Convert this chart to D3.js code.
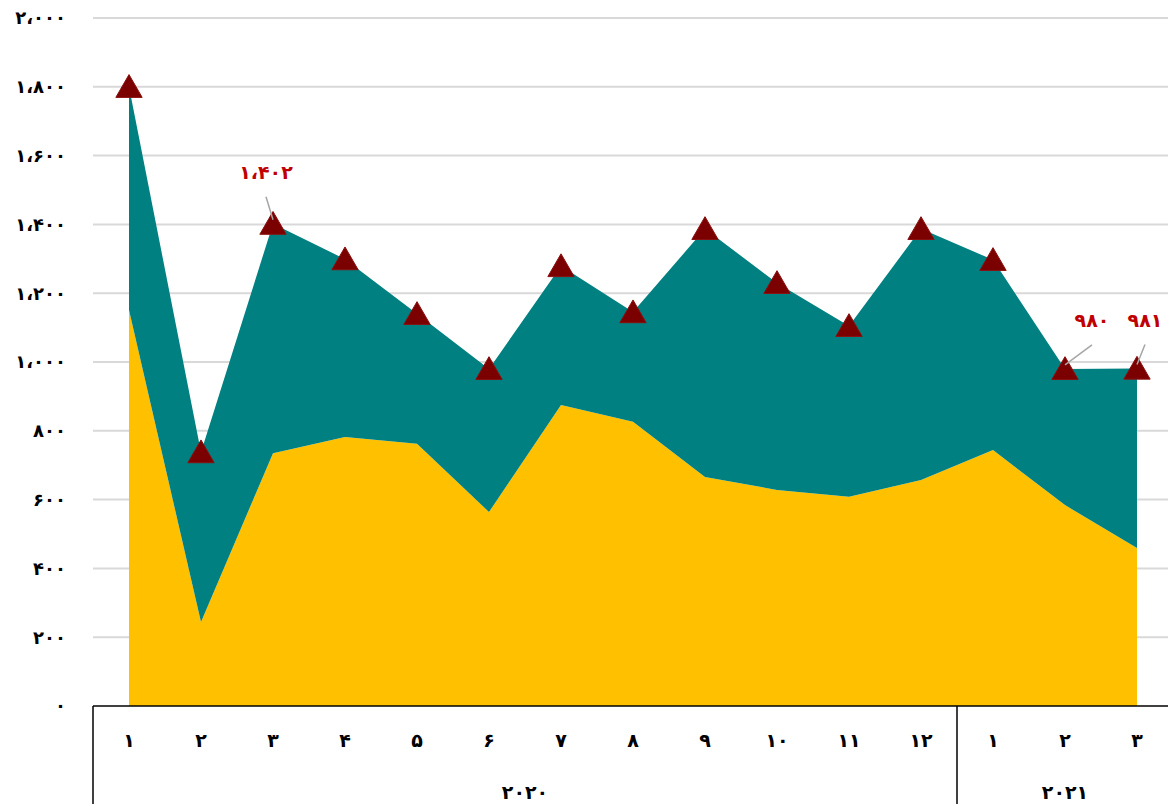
<!DOCTYPE html>
<html lang="fa">
<head>
    <meta charset="UTF-8">
    <title>Stacked area</title>
    <script src="https://d3js.org/d3.v7.min.js"></script>
    <style>
        body {
            margin: 0;
            background: #fff;
            font-family: 'DejaVu Sans', sans-serif;
        }
        svg { display: block; }
        .tick-label { font-size: 18px; font-weight: bold; fill: #000; }
        .cat-label { font-size: 19px; font-weight: bold; fill: #000; }
        .data-label { font-size: 19px; font-weight: bold; fill: #c00000; }
    </style>
</head>
<body>
    <div id="chart"></div>
    <script>
        // Datos
        const months = [1, 2, 3, 4, 5, 6, 7, 8, 9, 10, 11, 12, 1, 2, 3];
        const years = [{ label: 2020, count: 12 }, { label: 2021, count: 3 }];
        const yellowValues = [1151, 244, 735, 782, 762, 564, 875, 826, 666, 628, 608, 657, 744, 584, 459];
        const tealValues = [649, 494, 667, 517, 378, 416, 404, 319, 721, 602, 497, 730, 553, 396, 522];
        const yTicks = [0, 200, 400, 600, 800, 1000, 1200, 1400, 1600, 1800, 2000];
        // índices con etiqueta de total
        const labelled = [2, 13, 14];

        const W = 1168, H = 804;
        const margin = { top: 18, left: 93, bottom: 98 };
        const plotBottom = H - margin.bottom;

        const faDigits = "۰۱۲۳۴۵۶۷۸۹";
        const toFa = s => String(s).replace(/\d/g, d => faDigits[+d]).replace(/,/g, "،");
        const fmt = d => toFa(d3.format(",")(d));

        const data = months.map((m, i) => ({
            i, month: m, yellow: yellowValues[i], teal: tealValues[i],
            total: yellowValues[i] + tealValues[i]
        }));

        const svg = d3.select("#chart").append("svg")
            .attr("width", W).attr("height", H);

        const x = d3.scaleBand()
            .domain(d3.range(months.length))
            .range([margin.left, margin.left + 72 * months.length])
            .padding(0);
        const cx = i => x(i) + x.bandwidth() / 2;

        const y = d3.scaleLinear()
            .domain([0, 2000])
            .range([plotBottom, margin.top]);

        // Rejilla
        svg.append("g")
            .selectAll("line")
            .data(yTicks.filter(t => t > 0))
            .join("line")
            .attr("x1", margin.left).attr("x2", W)
            .attr("y1", d => y(d)).attr("y2", d => y(d))
            .attr("stroke", "#d9d9d9").attr("stroke-width", 2);

        // Etiquetas eje Y
        svg.append("g")
            .selectAll("text")
            .data(yTicks)
            .join("text")
            .attr("class", "tick-label")
            .attr("x", 66)
            .attr("y", d => y(d))
            .attr("dy", "0.35em")
            .attr("text-anchor", "end")
            .text(d => fmt(d));

        // Áreas apiladas
        const stack = d3.stack().keys(["yellow", "teal"]);
        const series = stack(data);
        const colors = { yellow: "#ffc000", teal: "#008080" };
        const area = d3.area()
            .x(d => cx(d.data.i))
            .y0(d => y(d[0]))
            .y1(d => y(d[1]));

        svg.append("g")
            .selectAll("path")
            .data(series)
            .join("path")
            .attr("fill", s => colors[s.key])
            .attr("d", area);

        // Marcadores del total
        svg.append("g")
            .selectAll("path")
            .data(data)
            .join("path")
            .attr("d", d3.symbol().type(d3.symbolTriangle).size(300))
            .attr("transform", d => `translate(${cx(d.i)},${y(d.total) + 3})`)
            .attr("fill", "#7b0000")
            .attr("stroke", "#8b1010")
            .attr("stroke-width", 1);

        // Etiquetas de datos con líneas guía
        const offsets = { 2: [-7, -45], 13: [27, -42], 14: [8, -42] };
        const lab = svg.append("g");
        labelled.forEach(i => {
            const d = data[i];
            const px = cx(i), py = y(d.total);
            const [dx, dy] = offsets[i];
            lab.append("line")
                .attr("x1", px).attr("y1", py - 4)
                .attr("x2", px + dx).attr("y2", py + dy + 18)
                .attr("stroke", "#a6a6a6").attr("stroke-width", 1.5);
            lab.append("text")
                .attr("class", "data-label")
                .attr("x", px + dx)
                .attr("y", py + dy)
                .attr("text-anchor", "middle")
                .text(fmt(d.total));
        });

        // Eje X con agrupación por año
        const ax = svg.append("g");
        ax.append("line")
            .attr("x1", margin.left).attr("x2", W)
            .attr("y1", plotBottom).attr("y2", plotBottom)
            .attr("stroke", "#000").attr("stroke-width", 1.5);

        ax.selectAll("text.cat-label.m")
            .data(data)
            .join("text")
            .attr("class", "cat-label m")
            .attr("x", d => cx(d.i))
            .attr("y", plotBottom + 41)
            .attr("text-anchor", "middle")
            .text(d => toFa(d.month));

        let start = 0;
        years.forEach(yr => {
            const x0 = x(start);
            const x1 = x(start + yr.count - 1) + x.bandwidth();
            ax.append("line")
                .attr("x1", x0).attr("x2", x0)
                .attr("y1", plotBottom).attr("y2", H)
                .attr("stroke", "#000").attr("stroke-width", 1.5);
            ax.append("text")
                .attr("class", "cat-label")
                .attr("x", (x0 + x1) / 2)
                .attr("y", plotBottom + 93)
                .attr("text-anchor", "middle")
                .text(toFa(yr.label));
            start += yr.count;
        });
    </script>
</body>
</html>
